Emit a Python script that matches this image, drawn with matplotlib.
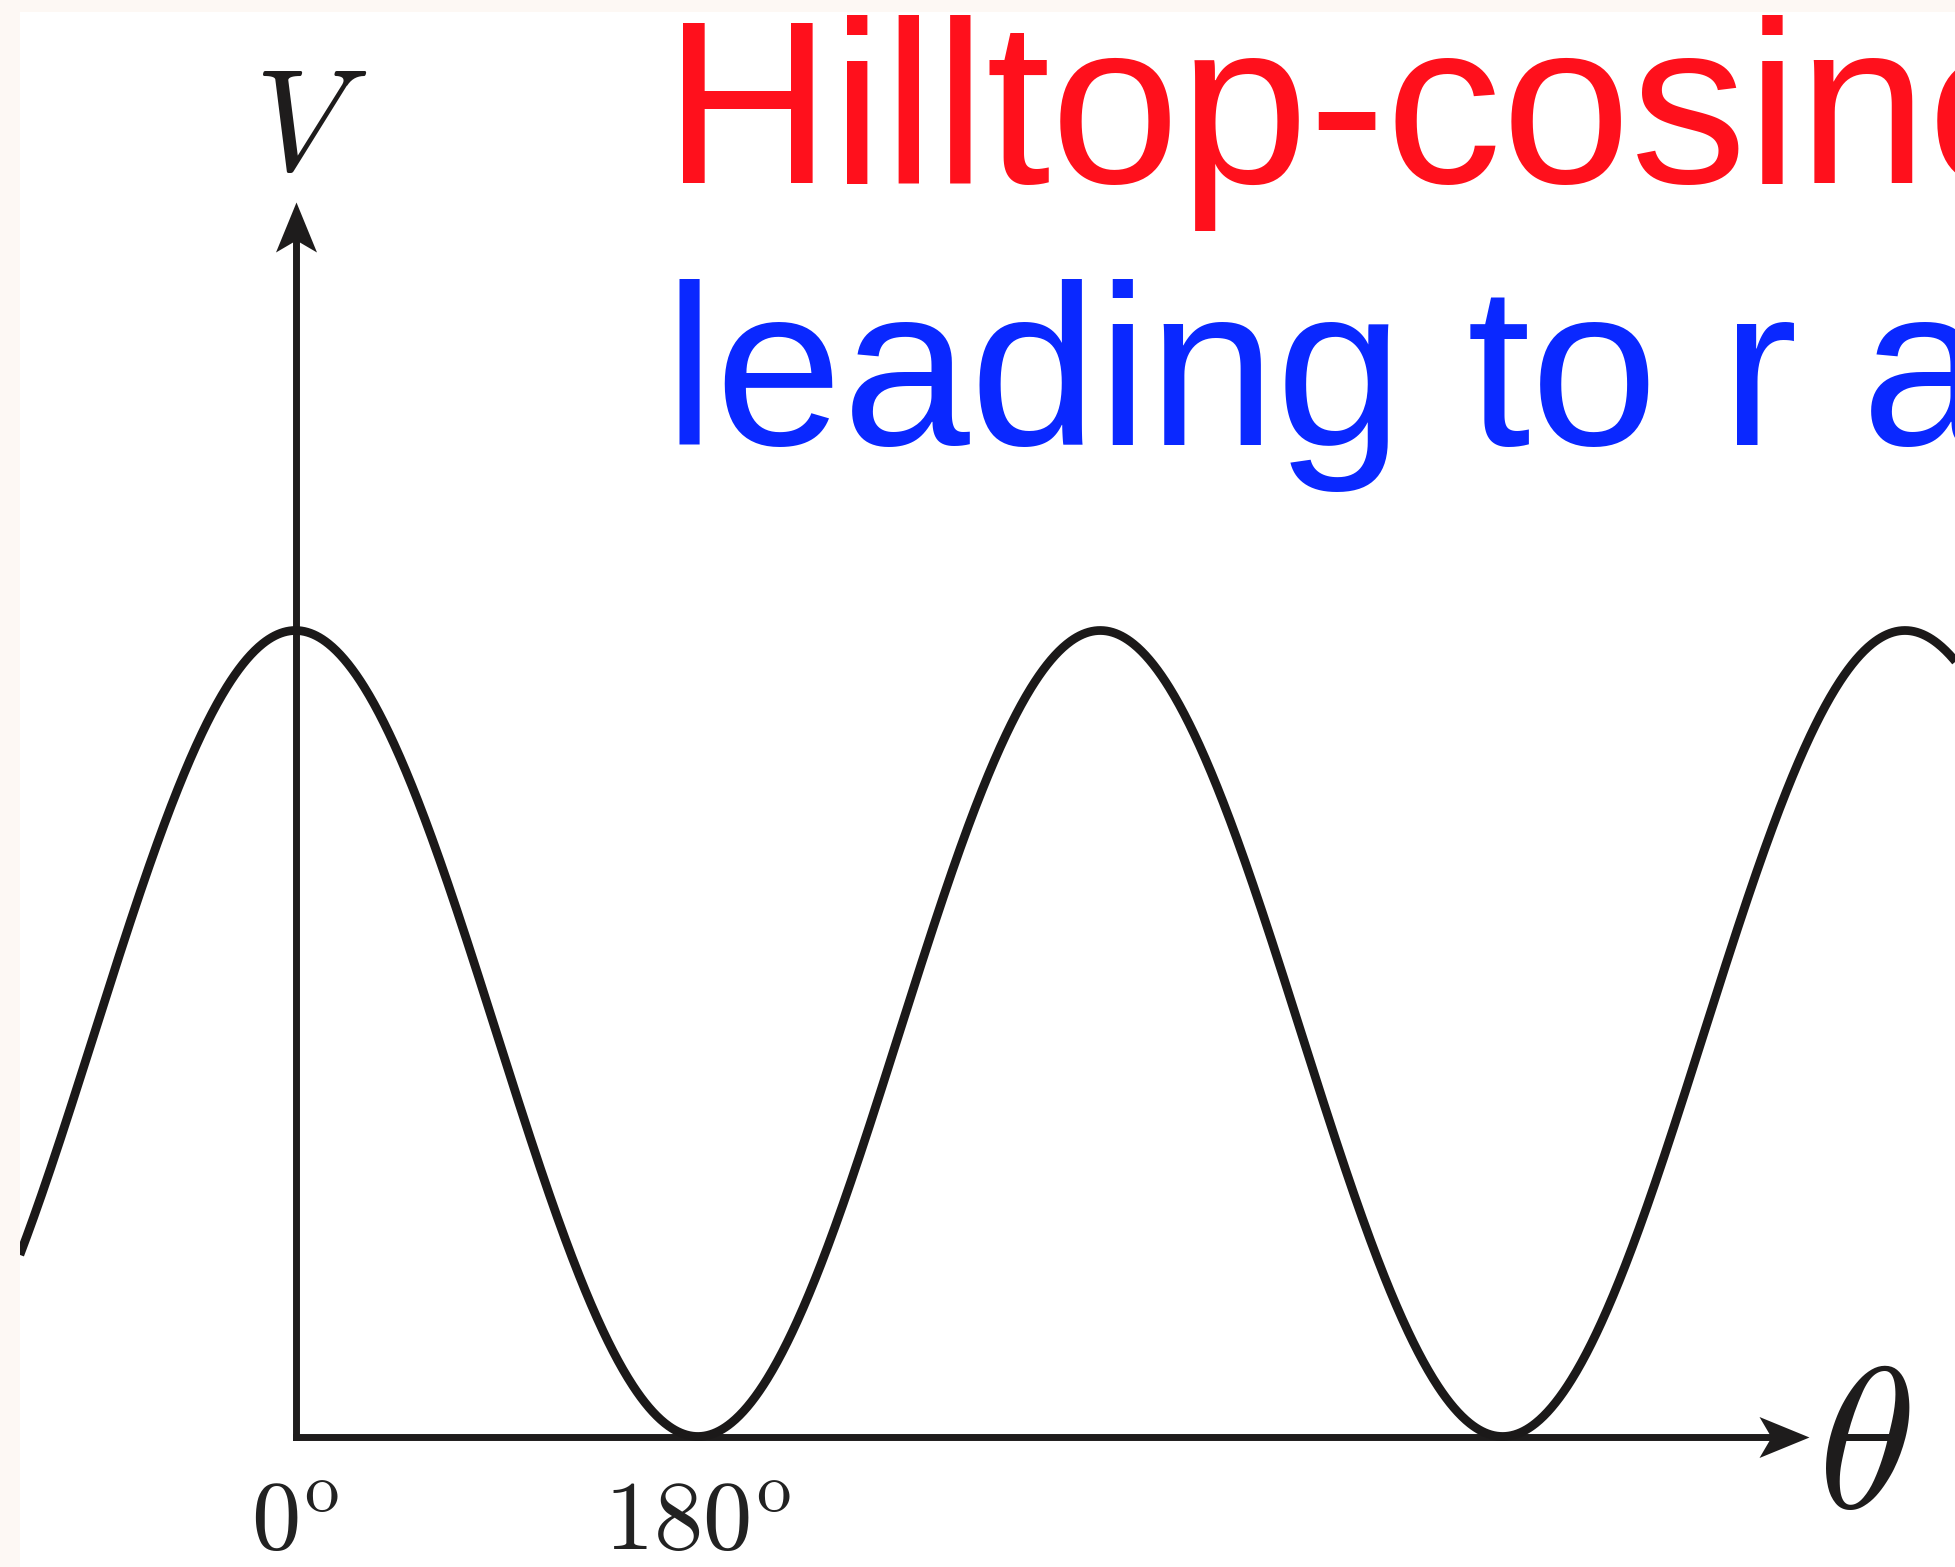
import numpy as np
import matplotlib
matplotlib.use("Agg")
import matplotlib.pyplot as plt
from matplotlib.path import Path

plt.rcParams['mathtext.fontset'] = 'cm'

# ---------------- data ----------------
theta_range = [-130.0, 760.0]          # degrees shown along the curve
tick_positions = [0, 180]              # degrees
tick_labels = [r'$0^{\mathrm{o}}$', r'$180^{\mathrm{o}}$']
title_red = "Hilltop-cosine"
title_blue = "leading to r a"
x_label = r'$\theta$'
y_label = r'$V$'

# ---------------- layout ----------------
W, H = 1955, 1567
fig = plt.figure(figsize=(W / 100, H / 100), dpi=100, facecolor='#fdf8f4')
ax = fig.add_axes([20 / W, 0, (W - 20) / W, (H - 12) / H])
ax.set_facecolor('white')

px_per_deg = 804.75 / 360.0
px_per_unit = 403.0
x0_px, y0_px = 295.5, 1436.5
ax.set_xlim((20 - x0_px) / px_per_deg, (W - x0_px) / px_per_deg)
ax.set_ylim((y0_px - H) / px_per_unit, (y0_px - 12) / px_per_unit)

X_TIP = (1809 - x0_px) / px_per_deg
Y_TIP = (y0_px - 202) / px_per_unit

# curve: V = 1 + cos(theta)
th = np.linspace(theta_range[0], theta_range[1], 2000)
V = 1 + np.cos(np.radians(th))
ax.plot(th, V, color='#1b1919', lw=6.3, solid_capstyle='butt', zorder=3)

# axes as spines
for s in ['top', 'right']:
    ax.spines[s].set_visible(False)
ax.spines['left'].set_position(('data', 0))
ax.spines['bottom'].set_position(('data', 0))
ax.spines['left'].set_bounds(0, Y_TIP - 0.06)
ax.spines['bottom'].set_bounds(0, X_TIP - 10)
for s in ['left', 'bottom']:
    ax.spines[s].set_linewidth(5.0)
    ax.spines[s].set_color('#1e1c1c')
    ax.spines[s].set_zorder(2)

ax.set_yticks([])
ax.set_xticks(tick_positions, tick_labels)
ax.tick_params(axis='x', length=0, pad=(1550 - y0_px) * 0.72, labelsize=71, colors='#222222')
for lbl in ax.get_xticklabels():
    lbl.set_verticalalignment('baseline')

# arrowheads
right_head = Path([(0, 0), (-1, 0.41), (-0.76, 0), (-1, -0.41), (0, 0)],
                  [Path.MOVETO, Path.LINETO, Path.LINETO, Path.LINETO, Path.CLOSEPOLY])
up_head = Path([(0, 0), (0.41, -1), (0, -0.76), (-0.41, -1), (0, 0)],
               [Path.MOVETO, Path.LINETO, Path.LINETO, Path.LINETO, Path.CLOSEPOLY])
ax.plot([X_TIP], [0], marker=right_head, ms=72, color='#1e1c1c', mew=0, clip_on=False, zorder=4)
ax.plot([0], [Y_TIP], marker=up_head, ms=72, color='#1e1c1c', mew=0, clip_on=False, zorder=4)

# axis labels
ax.text((311 - x0_px) / px_per_deg, (y0_px - 170) / px_per_unit, y_label,
        fontsize=104, ha='center', va='baseline', color='#1e1c1c')
ax.text((1864 - x0_px) / px_per_deg, (y0_px - 1508) / px_per_unit, x_label,
        fontsize=144, ha='center', va='baseline', color='#1e1c1c')

# overlay titles
fig.text(664 / W, 1 - 183 / H, title_red, fontsize=167, family='Liberation Sans',
         color='#ff101c', ha='left', va='baseline')
fig.text(664 / W, 1 - 445 / H, title_blue, fontsize=165, family='Liberation Sans',
         color='#0a28ff', ha='left', va='baseline')

fig.savefig('out.png', dpi=100, facecolor=fig.get_facecolor())
